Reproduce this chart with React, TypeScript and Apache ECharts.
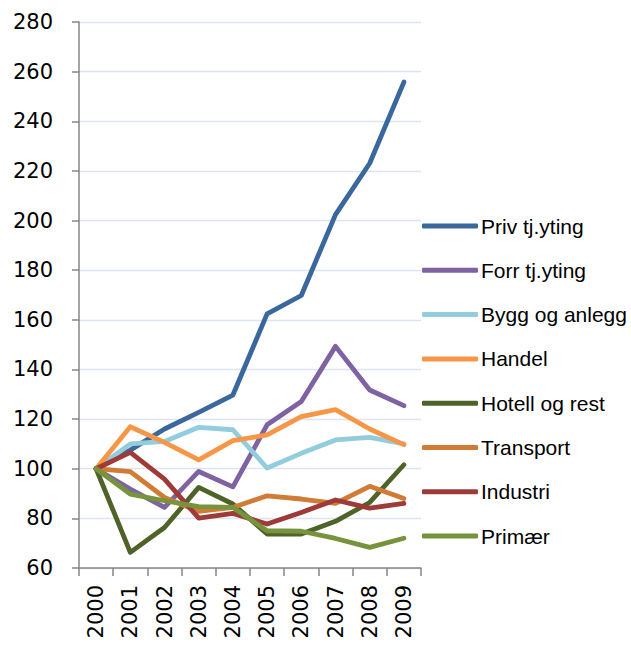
import React, { useEffect, useRef } from "react";
import * as echarts from "echarts";

const years = ["2000", "2001", "2002", "2003", "2004", "2005", "2006", "2007", "2008", "2009"];

const privTj = [100, 107.5, 116, 122.7, 129.7, 162.4, 169.8, 202.4, 223.1, 255.8];
const forrTj = [100, 91.8, 84.4, 98.9, 92.7, 117.7, 127.1, 149.3, 131.7, 125.4];
const bygg = [100, 110, 111, 116.7, 115.7, 100.3, 106.2, 111.6, 112.6, 110];
const handel = [100, 116.9, 110.6, 103.6, 111.3, 113.6, 121, 123.8, 116, 109.7];
const hotell = [100, 66.3, 76.3, 92.5, 85.8, 73.7, 73.7, 78.8, 86.4, 101.6];
const transport = [100, 98.8, 88.4, 82.8, 84.4, 89.1, 87.8, 86, 92.9, 88];
const industri = [100, 106.6, 95.8, 80.1, 82, 77.7, 82.4, 87.4, 84.1, 86];
const primaer = [100, 89.8, 87.1, 84.7, 84.4, 75, 74.8, 71.9, 68.3, 72];

const seriesNames = [
  "Priv tj.yting",
  "Forr tj.yting",
  "Bygg og anlegg",
  "Handel",
  "Hotell og rest",
  "Transport",
  "Industri",
  "Primær",
];
const seriesData = [privTj, forrTj, bygg, handel, hotell, transport, industri, primaer];
const colors = ["#3A679C", "#7F62A1", "#93CDDD", "#F79646", "#4F6228", "#D07C36", "#9E3B38", "#77933C"];

export default function App() {
  const ref = useRef<HTMLDivElement>(null);
  useEffect(() => {
    if (!ref.current) return;
    const chart = echarts.init(ref.current, null, { renderer: "svg" });
    chart.setOption({
      animation: false,
      backgroundColor: "#ffffff",
      grid: { left: 79, right: 210, top: 22, bottom: 82, containLabel: false },
      legend: {
        orient: "vertical",
        left: 417,
        top: 209,
        itemGap: 20.3,
        itemWidth: 56,
        itemHeight: 5,
        icon: "roundRect",
        textStyle: {
          fontFamily: "'Liberation Sans', Arial, sans-serif",
          fontSize: 21,
          color: "#000",
          lineHeight: 24,
          padding: [0, 0, 0, -2],
        },
        data: seriesNames,
      },
      xAxis: {
        type: "category",
        data: years,
        boundaryGap: true,
        axisLine: { lineStyle: { color: "#868686", width: 1.5 } },
        axisTick: { show: true, length: 8, lineStyle: { color: "#868686", width: 1.5 } },
        axisLabel: {
          rotate: 90,
          margin: 17,
          fontFamily: "'DejaVu Sans', sans-serif",
          fontSize: 21,
          color: "#000",
          interval: 0,
        },
      },
      yAxis: {
        type: "value",
        min: 60,
        max: 280,
        interval: 20,
        axisLine: { show: true, lineStyle: { color: "#868686", width: 1.5 } },
        axisTick: { show: true, length: 7, lineStyle: { color: "#868686", width: 1.5 } },
        axisLabel: {
          margin: 26,
          fontFamily: "'DejaVu Sans', sans-serif",
          fontSize: 21,
          color: "#000",
        },
        splitLine: { show: true, lineStyle: { color: "#DCE5F1", width: 1.3 } },
      },
      series: seriesNames.map((name, i) => ({
        name,
        type: "line",
        data: seriesData[i],
        showSymbol: false,
        symbol: "none",
        color: colors[i],
        lineStyle: { width: 4.8, color: colors[i], join: "round", cap: "round" },
      })),
    });
    return () => chart.dispose();
  }, []);
  return <div ref={ref} style={{ width: 631, height: 650, position: "absolute", left: 0, top: 0 }} />;
}
